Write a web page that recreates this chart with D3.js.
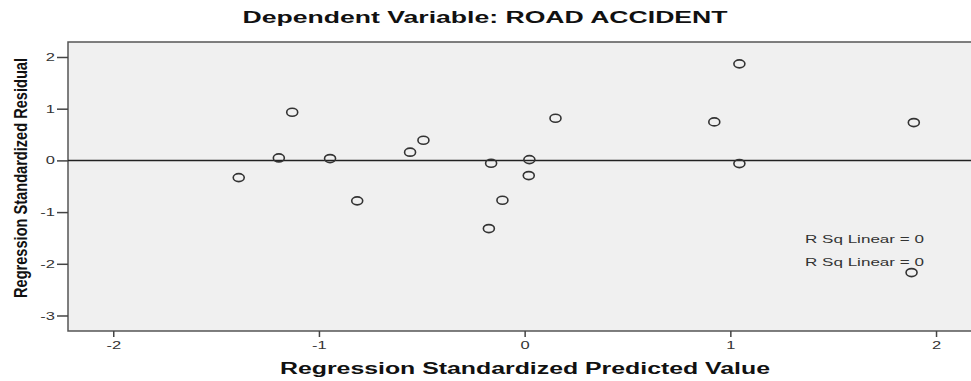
<!DOCTYPE html>
<html>
<head>
<meta charset="utf-8">
<script src="https://cdn.jsdelivr.net/npm/d3@7"></script>
<style>
  body { margin: 0; background: #fff; }
  svg { display: block; font-family: "Liberation Sans", Arial, sans-serif; }
</style>
</head>
<body>
<div id="chart"></div>
<script>
// standardized predicted values (x) and standardized residuals (y)
const predicted = [-1.39, -1.13, -1.195, -0.946, -0.814, -0.557, -0.492, -0.163, -0.174,
  -0.108, 0.023, 0.02, 0.15, 1.044, 0.922, 1.892, 1.044, 1.881];
const residual = [-0.333, 0.932, 0.048, 0.035, -0.783, 0.159, 0.391, -0.054, -1.319,
  -0.77, 0.015, -0.294, 0.816, 1.867, 0.745, 0.731, -0.062, -2.17];
const xTicks = [-2, -1, 0, 1, 2];
const yTicks = [-3, -2, -1, 0, 1, 2];
const fitLabels = ["R Sq Linear = 0", "R Sq Linear = 0"];

const width = 971, height = 381;
const margin = { top: 42, right: 0, bottom: 50, left: 68 };

// the source picture is stretched sideways, so widen the text to match
function stretch(sel, k) {
  sel.each(function() {
    const w = this.getComputedTextLength();
    d3.select(this).attr("textLength", w * k).attr("lengthAdjust", "spacingAndGlyphs");
  });
}

const svg = d3.select("#chart").append("svg")
  .attr("width", width)
  .attr("height", height);

const x = d3.scaleLinear().domain([-2.22, 2.17]).range([margin.left, width]);
const y = d3.scaleLinear().domain([-3.3, 2.29]).range([height - margin.bottom, margin.top]);

// plot area
svg.append("rect")
  .attr("x", margin.left)
  .attr("y", margin.top)
  .attr("width", width - margin.left + 5)
  .attr("height", height - margin.bottom - margin.top)
  .attr("fill", "#f0f0f0")
  .attr("stroke", "#555")
  .attr("stroke-width", 1.5);

// axes
const xAxis = svg.append("g")
  .attr("transform", `translate(0,${height - margin.bottom})`)
  .call(d3.axisBottom(x).tickValues(xTicks).tickSize(6).tickPadding(4).tickFormat(d => String(d)));
const yAxis = svg.append("g")
  .attr("transform", `translate(${margin.left},0)`)
  .call(d3.axisLeft(y).tickValues(yTicks).tickSize(11).tickPadding(2).tickFormat(d => String(d)));

[xAxis, yAxis].forEach(g => {
  g.select(".domain").remove();
  g.selectAll("line").attr("stroke", "#444").attr("stroke-width", 1.5);
  g.selectAll("text")
    .attr("fill", "#333")
    .style("font-family", "'Liberation Sans', Arial, sans-serif")
    .style("font-size", "11px")
    .call(stretch, 1.5);
});

// reference line at 0
svg.append("line")
  .attr("x1", margin.left)
  .attr("x2", width)
  .attr("y1", y(0))
  .attr("y2", y(0))
  .attr("stroke", "#222")
  .attr("stroke-width", 1.5);

// points
const pts = predicted.map((p, i) => ({ p: p, r: residual[i] }));
svg.selectAll(".pt")
  .data(pts)
  .enter().append("ellipse")
  .attr("class", "pt")
  .attr("cx", d => x(d.p))
  .attr("cy", d => y(d.r))
  .attr("rx", 5.5)
  .attr("ry", 4)
  .attr("fill", "none")
  .attr("stroke", "#333")
  .attr("stroke-width", 1.6);

// fit line labels
svg.selectAll(".fit")
  .data(fitLabels)
  .enter().append("text")
  .attr("class", "fit")
  .attr("x", x(1.363))
  .attr("y", (d, i) => y(-1.6 - i * 0.45))
  .attr("fill", "#333")
  .style("font-size", "11px")
  .text(d => d)
  .call(stretch, 1.55);

// titles
svg.append("text")
  .attr("x", 485)
  .attr("y", 23)
  .attr("text-anchor", "middle")
  .attr("fill", "#111")
  .style("font-size", "16px")
  .style("font-weight", "bold")
  .attr("textLength", 485)
  .attr("lengthAdjust", "spacingAndGlyphs")
  .text("Dependent Variable: ROAD ACCIDENT");

svg.append("text")
  .attr("x", 525)
  .attr("y", 374)
  .attr("text-anchor", "middle")
  .attr("fill", "#111")
  .style("font-size", "16px")
  .style("font-weight", "bold")
  .attr("textLength", 490)
  .attr("lengthAdjust", "spacingAndGlyphs")
  .text("Regression Standardized Predicted Value");

svg.append("text")
  .attr("transform", "rotate(-90)")
  .attr("x", -178)
  .attr("y", 27)
  .attr("text-anchor", "middle")
  .attr("fill", "#111")
  .style("font-family", "'Liberation Sans Narrow', 'Arial Narrow', 'Liberation Sans', sans-serif")
  .style("font-size", "18px")
  .style("font-weight", "bold")
  .attr("textLength", 240)
  .attr("lengthAdjust", "spacingAndGlyphs")
  .text("Regression Standardized Residual");
</script>
</body>
</html>
